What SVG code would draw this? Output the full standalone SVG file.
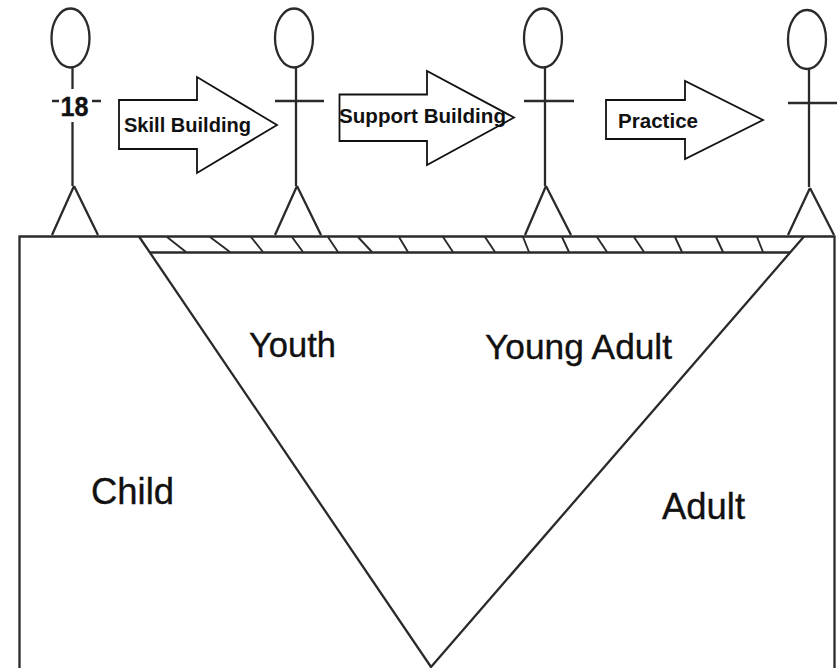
<svg xmlns="http://www.w3.org/2000/svg" width="838" height="668" viewBox="0 0 838 668">
<style>
.l{fill:none;stroke:#2a2a2a;stroke-width:2.300}
.h{fill:none;stroke:#2a2a2a;stroke-width:1.900}
.a{fill:#fff;stroke:#111;stroke-width:1.800}
.s{font-family:"Liberation Sans",Arial,sans-serif;font-weight:bold;fill:#111;font-size:19.500px}
.b{font-family:"Liberation Sans",Arial,sans-serif;fill:#111;stroke:#111;stroke-width:.35}
</style>
<rect width="838" height="668" fill="#fff"/>
<g id="field">
<path class="l" d="M19.500 668V236.500H834.500V668"/>
<path class="l" d="M150 252.500H790"/>
<path class="l" d="M139 236.500L431 667L804 236.500"/>
</g>
<g id="connectors">
<path class="h" d="M167 237L186 252M210 237L230 252M251 237L263 252M292 237L303 252M328 237L338 252M358 237L372 252M399 237L408 252M443 237L453 252M485 237L495 252M523 237L529 252M562 237L569 252M597 237L607 252M634 237L644 252M675 237L682 252M716 237L723 252M757 237L763 252"/>
</g>
<g id="figure-18">
<ellipse class="l" cx="70.500" cy="38" rx="19" ry="29.500"/>
<path class="l" d="M72.500 67V89M72.500 122V186M52 101H59M92 101H101M74 186L52 235M74 186L98 235"/>
<text class="b" x="60.500" y="116" font-size="28" font-weight="bold" textLength="28" lengthAdjust="spacingAndGlyphs">18</text>
</g>
<g id="figure-2">
<ellipse class="l" cx="294" cy="38" rx="19" ry="29.500"/>
<path class="l" d="M296 67V186M275 101H324M297 186L275 235M297 186L321 235"/>
</g>
<g id="figure-3">
<ellipse class="l" cx="543" cy="38" rx="19" ry="29.500"/>
<path class="l" d="M545 67V186M524 101H574M546 186L525 235M546 186L571 235"/>
</g>
<g id="figure-4">
<ellipse class="l" cx="807" cy="39.500" rx="19" ry="29.500"/>
<path class="l" d="M809 69V187M788 103H837M810 188L788 235M810 188L834 235"/>
</g>
<g id="arrow-skill">
<path class="a" d="M119 100H197V77L277 125L197 173V149H119Z"/>
<text class="s" x="124" y="132" textLength="127" lengthAdjust="spacingAndGlyphs">Skill Building</text>
</g>
<g id="arrow-support">
<path class="a" d="M339.500 94.500H427V71L514 117.500L427 165V141H339.500Z"/>
<text class="s" x="339" y="123" textLength="167" lengthAdjust="spacingAndGlyphs">Support Building</text>
</g>
<g id="arrow-practice">
<path class="a" d="M606 100H685V81L763 120L685 159V139H606Z"/>
<text class="s" x="618" y="128" textLength="80" lengthAdjust="spacingAndGlyphs">Practice</text>
</g>
<g id="labels">
<text class="b" x="249" y="357" font-size="35" textLength="87" lengthAdjust="spacingAndGlyphs">Youth</text>
<text class="b" x="485" y="359" font-size="35" textLength="187" lengthAdjust="spacingAndGlyphs">Young Adult</text>
<text class="b" x="91" y="504" font-size="36" textLength="83" lengthAdjust="spacingAndGlyphs">Child</text>
<text class="b" x="662" y="519" font-size="36" textLength="83" lengthAdjust="spacingAndGlyphs">Adult</text>
</g>
</svg>
